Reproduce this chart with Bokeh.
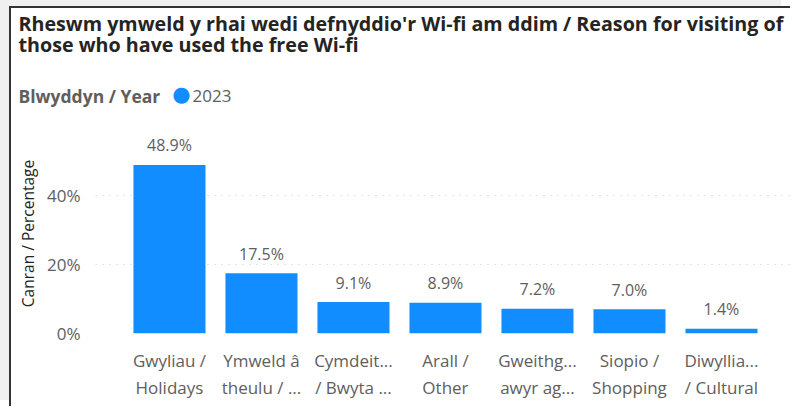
from bokeh.plotting import figure
from bokeh.models import (Range1d, FixedTicker, LinearAxis, Label,
                          LabelSet, ColumnDataSource)
from bokeh.core.properties import value
from bokeh.embed import file_html
from bokeh.resources import INLINE

# ---- data ----
title_line1 = "Rheswm ymweld y rhai wedi defnyddio'r Wi-fi am ddim / Reason for visiting of"
title_line2 = "those who have used the free Wi-fi"
legend_title = "Blwyddyn / Year"
series_name = "2023"
y_axis_title = "Canran / Percentage"

categories_line1 = ["Gwyliau /", "Ymweld â", "Cymdeit...", "Arall /",
                    "Gweithg...", "Siopio /", "Diwyllia..."]
categories_line2 = ["Holidays", "theulu / ...", "/ Bwyta ...", "Other",
                    "awyr ag...", "Shopping", "/ Cultural"]
values = [48.9, 17.5, 9.1, 8.9, 7.2, 7.0, 1.4]
value_labels = ["48.9%", "17.5%", "9.1%", "8.9%", "7.2%", "7.0%", "1.4%"]
y_ticks = [0, 20, 40]
y_tick_labels = ["0%", "20%", "40%"]

# ---- styling ----
FONT = "Open Sans"
BAR = "#118DFF"
DARK = "#252423"
GREY = "#605E5C"

idx = list(range(len(values)))
source = ColumnDataSource(dict(x=idx, top=values, label=value_labels))

p = figure(width=781, height=400, output_backend="svg", toolbar_location=None,
           title=None, x_range=Range1d(-0.804, 6.772), y_range=Range1d(0, 58),
           min_border_left=84, min_border_right=0, min_border_top=125,
           min_border_bottom=75)
p.margin = (6, 0, 0, 9)
p.styles = {"border-left": "2px solid #333333",
            "border-top": "2px solid #333333",
            "box-shadow": "-9px -6px 0 0 #F0F0F0"}
p.outline_line_color = None
p.background_fill_color = "white"
p.border_fill_color = "white"

bars = p.vbar(x="x", top="top", width=0.783, source=source,
              fill_color=BAR, line_color=None)

labels = LabelSet(x="x", y="top", text="label", source=source,
                  text_align="center", text_baseline="alphabetic", y_offset=13.5,
                  text_font=value(FONT), text_font_size="16px", text_color=GREY)
p.add_layout(labels)

# grid
p.xgrid.visible = False
p.ygrid.ticker = FixedTicker(ticks=y_ticks)
p.ygrid.grid_line_color = "#C8C6C4"
p.ygrid.grid_line_dash = "1 6"
p.ygrid.grid_line_width = 1

# y axis
ya = p.yaxis[0]
ya.ticker = FixedTicker(ticks=y_ticks)
ya.major_label_overrides = dict(zip(y_ticks, y_tick_labels))
ya.axis_line_color = None
ya.major_tick_line_color = None
ya.minor_tick_line_color = None
ya.major_tick_out = 0
ya.major_tick_in = 0
ya.major_label_standoff = 15
ya.major_label_text_font = FONT
ya.major_label_text_font_size = "17px"
ya.major_label_text_color = GREY
ya.axis_label = y_axis_title
ya.axis_label_text_font = FONT
ya.axis_label_text_font_size = "15.5px"
ya.axis_label_text_font_style = "normal"
ya.axis_label_text_color = DARK
ya.axis_label_standoff = 5

# x axes (two lines of category labels)
def style_x(ax, standoff):
    ax.axis_line_color = None
    ax.major_tick_line_color = None
    ax.minor_tick_line_color = None
    ax.major_tick_out = 0
    ax.major_tick_in = 0
    ax.major_label_standoff = standoff
    ax.major_label_text_font = FONT
    ax.major_label_text_font_size = "17px"
    ax.major_label_text_color = GREY

xa1 = p.xaxis[0]
xa1.ticker = FixedTicker(ticks=idx)
xa1.major_label_overrides = dict(zip(idx, categories_line1))
style_x(xa1, 15)

xa2 = LinearAxis(ticker=FixedTicker(ticks=idx),
                 major_label_overrides=dict(zip(idx, categories_line2)))
style_x(xa2, 1)
p.add_layout(xa2, "below")

# titles and legend as canvas-positioned labels
def canvas_label(text, x, y, size, color, style, font=FONT, align="left",
                 baseline="alphabetic"):
    return Label(text=text, x=x, y=y, x_units="canvas", y_units="canvas",
                 text_font=font, text_font_size=size, text_font_style=style,
                 text_color=color, text_baseline=baseline, text_align=align)

p.add_layout(canvas_label(title_line1, 5, 13.2, "19.7px", DARK, "bold"), "above")
p.add_layout(canvas_label(title_line2, 5, 33.5, "19.7px", DARK, "bold"), "above")
p.add_layout(canvas_label(legend_title, 5, 85, "17.5px", GREY, "bold"), "above")
p.add_layout(canvas_label("\u25CF", 168, 83, "21px", BAR, "normal",
                          font="DejaVu Sans", align="center", baseline="middle"),
             "above")
p.add_layout(canvas_label(series_name, 179, 85, "17px", GREY, "normal"), "above")

open("out.html", "w").write(file_html(p, INLINE))
